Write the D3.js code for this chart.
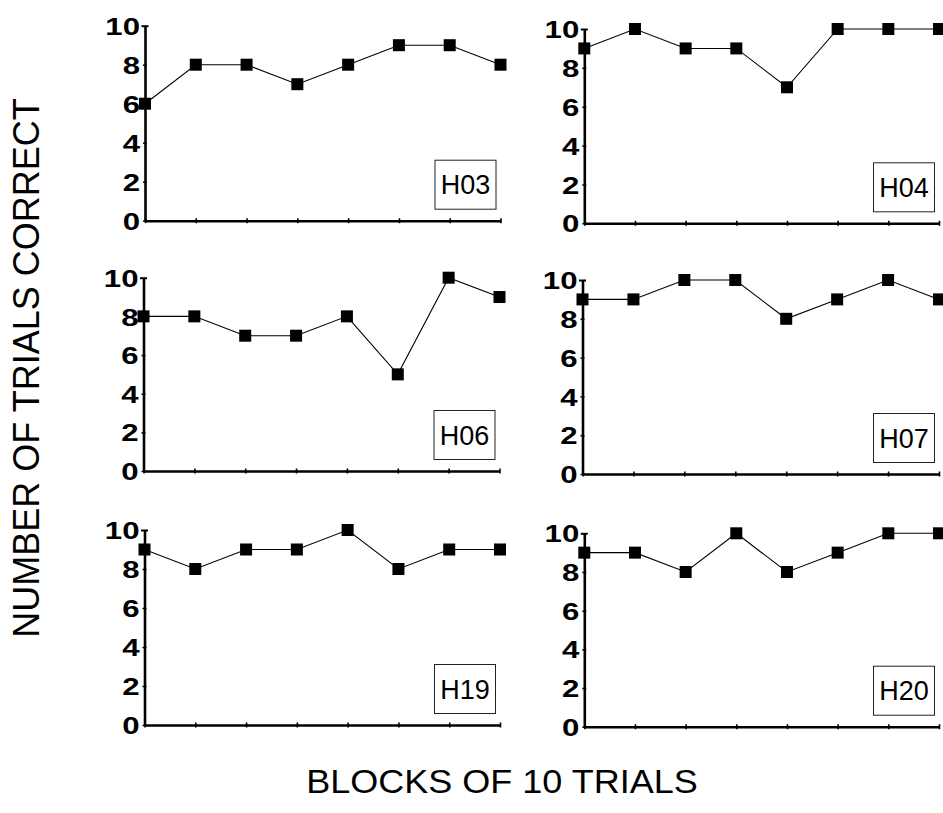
<!DOCTYPE html>
<html>
<head>
<meta charset="utf-8">
<script src="https://cdn.jsdelivr.net/npm/d3@7"></script>
<style>
  html, body { margin: 0; padding: 0; background: #fff; }
  svg { display: block; }
  text { font-family: "Liberation Sans", Arial, Helvetica, sans-serif; fill: #000; }
</style>
</head>
<body>
<svg id="chart" width="943" height="813"></svg>
<script>
// ---- data ----
const blocks = [1, 2, 3, 4, 5, 6, 7, 8];
const yTicks = [0, 2, 4, 6, 8, 10];
const subjects = ["H03", "H04", "H06", "H07", "H19", "H20"];
const H03 = [6, 8, 8, 7, 8, 9, 9, 8];
const H04 = [9, 10, 9, 9, 7, 10, 10, 10];
const H06 = [8, 8, 7, 7, 8, 5, 10, 9];
const H07 = [9, 9, 10, 10, 8, 9, 10, 9];
const H19 = [9, 8, 9, 9, 10, 8, 9, 9];
const H20 = [9, 9, 8, 10, 8, 9, 10, 10];
const seriesValues = [H03, H04, H06, H07, H19, H20];
const yTitle = "NUMBER OF TRIALS CORRECT";
const xTitle = "BLOCKS OF 10 TRIALS";

// ---- layout (pixel geometry of each panel) ----
const panels = [
  { x0: 145,   x1: 500.5, yTop: 25.7,  yBot: 220.7 },
  { x0: 584.3, x1: 939,   yTop: 29,    yBot: 223.3 },
  { x0: 143.5, x1: 499.5, yTop: 277.7, yBot: 471 },
  { x0: 582.5, x1: 939,   yTop: 280,   yBot: 474 },
  { x0: 144.5, x1: 500,   yTop: 530,   yBot: 725 },
  { x0: 584.3, x1: 939,   yTop: 533.3, yBot: 726.7 }
];

const svg = d3.select("#chart");
const tickScaleX = 1.3;

panels.forEach((p, i) => {
  const vals = seriesValues[i];
  const x = d3.scaleLinear().domain([blocks[0], blocks[blocks.length - 1]]).range([p.x0, p.x1]);
  const y = d3.scaleLinear().domain([0, 10]).range([p.yBot, p.yTop]);
  const g = svg.append("g");

  // y axis
  const ya = g.append("g")
    .attr("transform", `translate(${p.x0},0)`)
    .call(d3.axisLeft(y).tickValues(yTicks).tickSizeInner(3).tickSizeOuter(0).tickPadding(6));
  ya.select(".domain").attr("stroke", "#000").attr("stroke-width", 2.6);
  ya.selectAll(".tick line").attr("x1", d => d === 10 ? -3.5 : -2).attr("x2", d => d === 10 ? 3.5 : 2)
    .attr("stroke", "#000").attr("stroke-width", d => d === 10 ? 2 : 1.5);
  ya.selectAll(".tick text")
    .attr("x", -5 / tickScaleX)
    .attr("dy", "0.36em")
    .attr("transform", `scale(${tickScaleX},1)`)
    .style("font-family", '"Liberation Sans", Arial, sans-serif')
    .style("font-size", "24px")
    .style("font-weight", "bold")
    .attr("fill", "#000");

  // x axis
  const xa = g.append("g")
    .attr("transform", `translate(0,${p.yBot})`)
    .call(d3.axisBottom(x).tickValues(blocks).tickFormat("").tickSizeInner(2).tickSizeOuter(0));
  xa.select(".domain").attr("stroke", "#000").attr("stroke-width", 2.4);
  xa.selectAll(".tick line").attr("y1", -2.5).attr("y2", 2.5).attr("stroke", "#000").attr("stroke-width", 1.6);

  // line
  const line = d3.line().x((d, j) => x(blocks[j])).y(d => y(d));
  g.append("path").datum(vals)
    .attr("d", line)
    .attr("fill", "none")
    .attr("stroke", "#000")
    .attr("stroke-width", 1.1);

  // markers
  const s = 12;
  g.selectAll("rect.pt").data(vals).enter().append("rect")
    .attr("class", "pt")
    .attr("x", (d, j) => x(blocks[j]) - s / 2)
    .attr("y", d => y(d) - s / 2)
    .attr("width", s).attr("height", s)
    .attr("fill", "#000");

  // label box
  const bw = 61, bh = 49;
  const bx = p.x1 - 4.5 - bw, by = p.yBot - 11.5 - bh;
  g.append("rect")
    .attr("x", bx).attr("y", by).attr("width", bw).attr("height", bh)
    .attr("fill", "#fff").attr("stroke", "#222").attr("stroke-width", 1);
  g.append("text")
    .attr("x", bx + bw / 2).attr("y", by + bh / 2)
    .attr("text-anchor", "middle").attr("dy", "0.36em")
    .style("font-size", "27px")
    .text(subjects[i]);
});

// axis titles
svg.append("text")
  .attr("transform", "translate(39,368) rotate(-90)")
  .attr("text-anchor", "middle")
  .style("font-size", "36px")
  .text(yTitle);

svg.append("text")
  .attr("transform", "translate(502,793) scale(1.06,1)")
  .attr("text-anchor", "middle")
  .style("font-size", "34px")
  .text(xTitle);
</script>
</body>
</html>
